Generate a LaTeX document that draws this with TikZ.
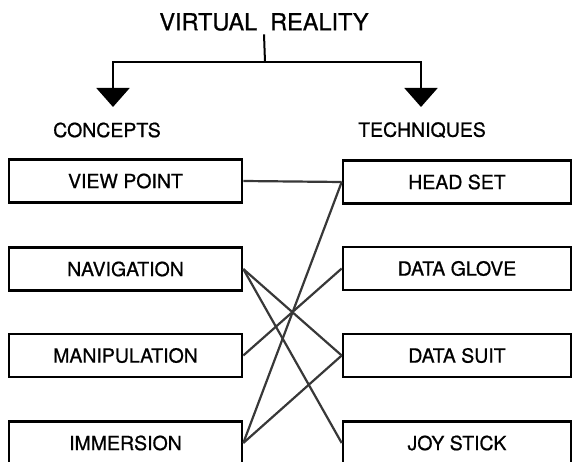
\documentclass[tikz,border=0pt]{standalone}
\usepackage{fontspec}
\setmainfont{TeX Gyre Heros}
\newfontfamily\vrfont{TeX Gyre Heros}[FakeBold=0.8]
\usetikzlibrary{arrows.meta}
\tikzset{cbox/.style={draw=black,line width=2.6pt,minimum height=43pt,inner sep=0pt,font=\vrfont\fontsize{19.5}{22}\selectfont},link/.style={line width=2.2pt,draw=black!78},trunk/.style={line width=2pt,draw=black,-{Triangle[width=33pt,length=19pt]}}}

\begin{document}
\begin{tikzpicture}[x=1pt,y=-1pt,font=\vrfont\fontsize{19.5}{22}\selectfont]
\useasboundingbox (0,0) rectangle (573,462);
\node[font=\vrfont\fontsize{23.5}{26}\selectfont] (vr) at (264,22) {VIRTUAL\hspace{.55em}REALITY};
\coordinate (fork) at (265,62);\coordinate (cTip) at (113,107);\coordinate (tTip) at (421,107);
\draw[line width=2pt] (vr.south)--(fork);
\draw[trunk] (fork)-|(cTip);\draw[trunk] (fork)-|(tTip);
\node (concepts) at (107,130){CONCEPTS};\node (techniques) at (422,130){TECHNIQUES};
% concepts
\node[cbox,minimum width=233pt] (vp) at (125.5,181){VIEW POINT};
\node[cbox,minimum width=233pt] (nav) at (125.5,269){NAVIGATION};
\node[cbox,minimum width=233pt] (man) at (125.5,355.5){MANIPULATION};
\node[cbox,minimum width=233pt] (imm) at (125.5,443){IMMERSION};
% techniques
\node[cbox,minimum width=228pt] (hs) at (457,182){HEAD SET};
\node[cbox,minimum width=228pt] (dg) at (457,268.5){DATA GLOVE};
\node[cbox,minimum width=228pt] (ds) at (457,355.5){DATA SUIT};
\node[cbox,minimum width=228pt] (js) at (457,443){JOY STICK};
\foreach \a/\b in {vp/hs,nav/ds,nav/js,man/dg,imm/hs,imm/ds}{\draw[link](\a.east)--(\b.west);}
\end{tikzpicture}
\end{document}
